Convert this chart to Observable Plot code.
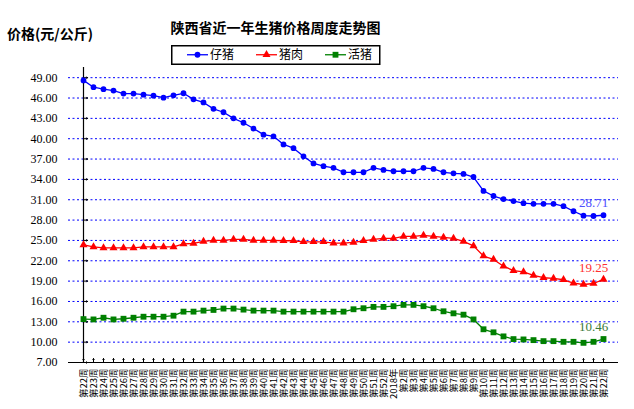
<!DOCTYPE html>
<html><head><meta charset="utf-8">
<script src="https://cdn.jsdelivr.net/npm/d3@7"></script>
<script src="https://cdn.jsdelivr.net/npm/@observablehq/plot@0.6"></script>
<style>
body{margin:0;background:#fff;}
#wrap{position:relative;width:634px;height:409px;font-family:"Noto Sans CJK SC",sans-serif;overflow:hidden;}
#title{position:absolute;left:0;width:551px;top:17px;text-align:center;font-size:14px;font-weight:bold;line-height:20px;color:#000;}
#ylab{position:absolute;left:7px;top:23px;font-size:14px;font-weight:bold;line-height:20px;color:#000;}
#legend{position:absolute;left:171px;top:45px;}
#chart{position:absolute;left:0;top:0;}
</style>
</head><body>
<div id="wrap">
  <div id="chart"></div>
  <div id="title">陕西省近一年生猪价格周度走势图</div>
  <div id="ylab">价格(元/公斤)</div>
  <svg id="legend" width="210" height="20"></svg>
</div>
<script>
const weekLabels = ["第22周","第23周","第24周","第25周","第26周","第27周","第28周","第29周","第30周","第31周",
"第32周","第33周","第34周","第35周","第36周","第37周","第38周","第39周","第40周","第41周",
"第42周","第43周","第44周","第45周","第46周","第47周","第48周","第49周","第50周","第51周","第52周",
"2018年","第2周","第3周","第4周","第5周","第6周","第7周","第8周","第9周","第10周",
"第11周","第12周","第13周","第14周","第15周","第16周","第17周","第18周","第19周","第20周","第21周","第22周"];

const piglet = [48.6,47.6,47.3,47.1,46.65,46.65,46.5,46.35,46.05,46.4,
46.7,45.8,45.35,44.4,43.9,43.0,42.35,41.5,40.6,40.35,
39.15,38.6,37.4,36.35,35.95,35.7,35.05,35.05,35.05,35.7,
35.4,35.2,35.2,35.2,35.7,35.55,35.05,34.9,34.8,34.35,
32.3,31.55,31.1,30.8,30.5,30.4,30.4,30.4,30.05,29.3,
28.65,28.6,28.71];

const pork = [24.35,24.05,23.9,23.9,23.9,23.9,24.05,24.05,24.05,24.05,
24.5,24.55,24.85,25.0,25.0,25.15,25.15,25.0,25.0,25.0,
24.95,24.95,24.8,24.8,24.8,24.6,24.6,24.7,24.95,25.15,
25.3,25.3,25.6,25.6,25.75,25.6,25.45,25.3,24.85,24.2,
22.7,22.2,21.2,20.55,20.35,19.85,19.5,19.4,19.2,18.7,
18.5,18.65,19.25];

const livePig = [13.4,13.35,13.6,13.35,13.45,13.6,13.75,13.75,13.75,13.9,
14.5,14.5,14.65,14.75,14.95,14.95,14.8,14.65,14.65,14.65,
14.5,14.5,14.5,14.5,14.5,14.5,14.5,14.85,15.0,15.2,
15.2,15.3,15.5,15.5,15.3,15.0,14.55,14.25,14.05,13.35,
11.9,11.45,10.85,10.45,10.4,10.3,10.15,10.15,10.05,10.05,
9.9,10.05,10.46];

const seriesNames = ["仔猪","猪肉","活猪"];
const seriesColors = ["#0000ff","#ff0000","#008000"];
const seriesSymbols = ["circle","triangle","square"];
const labelColors = ["#5050ff","#ff3030","#3a7a3a"];
const yTicks = [7,10,13,16,19,22,25,28,31,34,37,40,43,46,49];

const seriesValues = [piglet, pork, livePig];
const idx = d3.range(weekLabels.length);
const rows = seriesValues.map((vals, s) => vals.map((v, i) => ({i, v, s})));

const numFont = "'Liberation Serif', 'Noto Sans CJK SC', serif";

const marks = [
  Plot.ruleY(yTicks.filter(t => t > yTicks[0]), {stroke: "#0000ff", strokeWidth: 1, strokeDasharray: "2,2.5"}),
  Plot.axisY({ticks: yTicks, tickFormat: d => d.toFixed(2), tickSize: 0, tickPadding: 11, fontSize: 12, fontFamily: numFont, color: "#000", label: null}),
  Plot.axisX({ticks: idx, tickFormat: i => weekLabels[i], tickRotate: -90, tickSize: 0, tickPadding: 6, fontSize: 9.5, color: "#000", label: null}),
  Plot.ruleX([idx[0]], {stroke: "#000", strokeWidth: 1.2}),
  Plot.ruleY([yTicks[0]], {stroke: "#000", strokeWidth: 1.2}),
  Plot.vector(yTicks, {x: () => idx[0], y: d => d, length: 4, rotate: 90, anchor: "start", stroke: "#000", strokeWidth: 1}),
  Plot.vector(idx, {x: d => d, y: () => yTicks[0], length: 4, rotate: 0, anchor: "start", stroke: "#000", strokeWidth: 1})
];

rows.forEach((r, s) => {
  marks.push(Plot.line(r, {x: "i", y: "v", stroke: seriesColors[s], strokeWidth: 1.3}));
  marks.push(Plot.dot(r, {x: "i", y: "v", symbol: () => seriesSymbols[s], r: s === 1 ? 3 : (s === 2 ? 3.3 : 2.9), fill: seriesColors[s], stroke: "none"}));
  const last = r[r.length - 1];
  marks.push(Plot.text([last], {x: "i", y: "v", text: d => d.v.toFixed(2), dx: -10, dy: -12, fill: labelColors[s], fontSize: 13, fontFamily: numFont}));
});

const chart = Plot.plot({
  width: 634, height: 409,
  marginTop: 67, marginBottom: 47, marginLeft: 68, marginRight: 16,
  x: {type: "point", domain: idx, padding: 0, label: null},
  y: {domain: [7, 50.5], label: null},
  style: {fontFamily: "'Noto Sans CJK SC', sans-serif", background: "transparent", color: "#000"},
  marks
});
document.getElementById("chart").appendChild(chart);

// legend
const lg = d3.select("#legend");
lg.append("rect").attr("x", 0.75).attr("y", 0.75).attr("width", 208).attr("height", 18.5)
  .attr("fill", "#fff").attr("stroke", "#000").attr("stroke-width", 1.5);
const itemX = [16, 85, 154];
seriesNames.forEach((name, s) => {
  const x0 = itemX[s], cy = 9.75;
  lg.append("line").attr("x1", x0).attr("x2", x0 + 21).attr("y1", cy).attr("y2", cy)
    .attr("stroke", seriesColors[s]).attr("stroke-width", 1.3);
  const sym = d3.symbol().type(s === 0 ? d3.symbolCircle : s === 1 ? d3.symbolTriangle : d3.symbolSquare)
    .size(s === 0 ? 26 : s === 1 ? 28 : 34);
  lg.append("path").attr("d", sym()).attr("transform", `translate(${x0 + 10.5},${cy})`).attr("fill", seriesColors[s]);
  lg.append("text").attr("x", x0 + 23).attr("y", cy).attr("dy", "0.35em")
    .attr("font-size", 12).attr("font-family", "'Noto Sans CJK SC', sans-serif").attr("fill", "#000").text(name);
});
</script>
</body></html>
